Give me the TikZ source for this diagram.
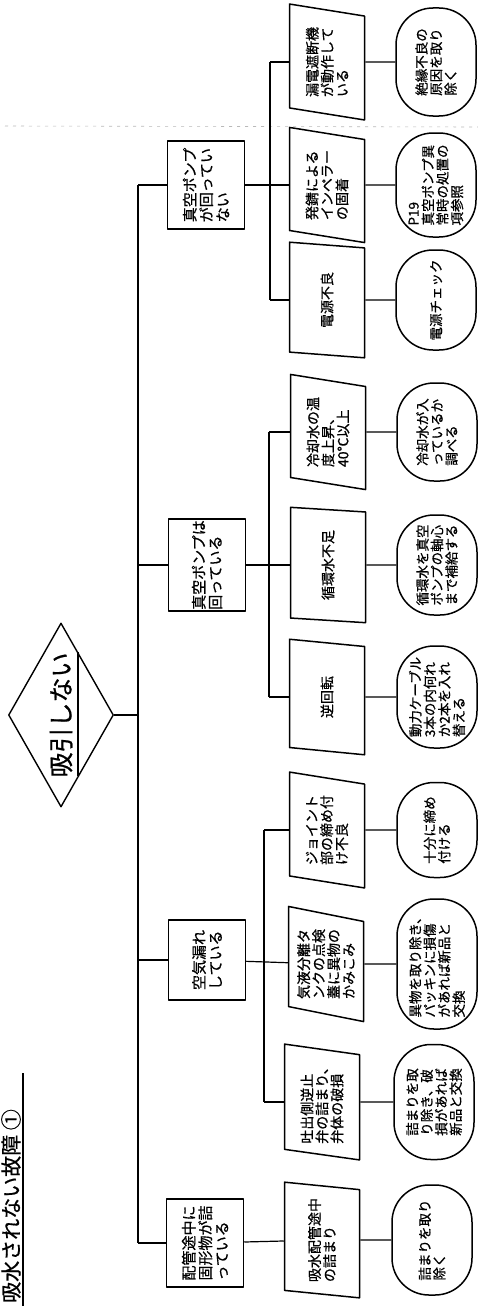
\documentclass[tikz,border=0pt]{standalone}
\usepackage{fontspec}
\newfontfamily\jp[FakeBold=0.6]{Noto Sans CJK JP}
\usetikzlibrary{shapes.geometric,shapes.misc}
\begin{document}
\begin{tikzpicture}[x=1pt,y=-1pt,line join=round,
  conn/.style={line width=1.2pt},
  rootbox/.style={diamond, draw, line width=1.4pt, rotate=90, aspect=1.75,
    minimum width=184pt, minimum height=105pt, inner sep=0pt,
    font=\jp\fontsize{25}{27}\selectfont},
  causebox/.style={rectangle, draw, line width=1.5pt, rotate=90, align=left,
    minimum height=77pt, inner sep=1pt, font=\jp\fontsize{15}{16.5}\selectfont},
  detailbox/.style={trapezium, trapezium left angle=78, trapezium right angle=102,
    trapezium stretches=true, draw, line width=1.5pt, rotate=90, align=left,
    minimum height=75pt, minimum width=116pt, inner sep=1pt,
    font=\jp\fontsize{14}{15}\selectfont},
  fixbox/.style={rectangle, rounded corners=37pt, draw, line width=1.5pt, rotate=90,
    align=left, minimum height=80pt, inner sep=1pt,
    font=\jp\fontsize{13.5}{14.5}\selectfont},
  titletext/.style={rotate=90, anchor=west, inner sep=0pt,
    font=\jp\fontsize{21}{23}\selectfont}
]
\fill[white] (0,0) rectangle (478,1306);
\useasboundingbox (0,0) rectangle (478,1306);

% faint scan line
\draw[gray!55, line width=0.6pt, dash pattern=on 3pt off 5pt] (5,126) -- (478,127);

% title
\node[titletext] (title) at (11,1303) {吸水されない故障 ①};
\draw[line width=1.2pt] (23,1073) -- (23,1306);

% root
\node[rootbox] (root) at (61,715) {吸引しない};
\draw[line width=1.1pt] (78,652) -- (78,776);

% level 1
\node[causebox, minimum width=88pt] (cA) at (206,185) {真空ポンプ\\が回ってい\\ない};
\node[causebox, minimum width=92pt] (cB) at (207,565) {真空ポンプは\\回っている};
\node[causebox, minimum width=80pt] (cC) at (207,960) {空気漏れ\\している};
\node[causebox, minimum width=88pt] (cD) at (205,1243) {配管途中に\\固形物が詰\\っている};

% level 2
\node[detailbox] (dA1) at (327,62) {漏電遮断機\\が動作して\\いる};
\node[detailbox] (dA2) at (327,185) {発錆による\\インペラー\\の固着};
\node[detailbox] (dA3) at (327,300) {電源不良};
\node[detailbox] (dB1) at (328,432) {冷却水の温\\度上昇、\\40℃以上};
\node[detailbox] (dB2) at (328,565) {循環水不足};
\node[detailbox] (dB3) at (327,697) {逆回転};
\node[detailbox] (dC1) at (327,830) {ジョイント\\部の締め付\\け不良};
\node[detailbox] (dC2) at (326,964) {気液分離タ\\ンクの点検\\蓋に異物の\\かみこみ};
\node[detailbox] (dC3) at (322,1102) {吐出側逆止\\弁の詰まり、\\弁体の破損};
\node[detailbox] (dD) at (322,1240) {吸水配管途中\\の詰まり};

% level 3
\node[fixbox, minimum width=108pt] (fA1) at (436,62) {絶縁不良の\\原因を取り\\除く};
\node[fixbox, minimum width=104pt] (fA2) at (436,185) {P19\\真空ポンプ異\\常時の処置の\\項参照};
\node[fixbox, minimum width=100pt] (fA3) at (436,300) {電源チェック};
\node[fixbox, minimum width=98pt] (fB1) at (437,432) {冷却水が入\\っているか\\調べる};
\node[fixbox, minimum width=100pt] (fB2) at (437,565) {循環水を真空\\ポンプの軸心\\まで補給する};
\node[fixbox, minimum width=102pt] (fB3) at (437,697) {動力ケーブル\\3本の内何れ\\か2本を入れ\\替える};
\node[fixbox, minimum width=95pt] (fC1) at (437,830) {十分に締め\\付ける};
\node[fixbox, minimum width=130pt] (fC2) at (437,964) {異物を取り除き、\\パッキンに損傷\\があれば新品と\\交換};
\node[fixbox, minimum width=115pt] (fC3) at (434,1102) {詰まりを取\\り除き、破\\損があれば\\新品と交換};
\node[fixbox, minimum width=110pt] (fD) at (432,1240) {詰まりを取り\\除く};

% spines
\coordinate (sp) at (138,0);
\coordinate (sA) at (270,0);
\coordinate (sB) at (269,0);
\coordinate (sC) at (264,0);

\draw[conn] (root) -- (sp |- root.center);
\draw[conn] (sp |- cA.center) -- (sp |- cD.center);
\foreach \n in {cA,cB,cC,cD} \draw[conn] (sp |- \n.center) -- (\n);

\draw[conn] (cA) -- (dA2);
\draw[conn] (sA |- dA1.center) -- (sA |- dA3.center);
\draw[conn] (sA |- dA1.center) -- (dA1);
\draw[conn] (sA |- dA3.center) -- (dA3);

\draw[conn] (cB) -- (dB2);
\draw[conn] (sB |- dB1.center) -- (sB |- dB3.center);
\draw[conn] (sB |- dB1.center) -- (dB1);
\draw[conn] (sB |- dB3.center) -- (dB3);

\draw[conn] (cC) -- (dC2);
\draw[conn] (sC |- dC1.center) -- (sC |- dC3.center);
\draw[conn] (sC |- dC1.center) -- (dC1);
\draw[conn] (sC |- dC3.center) -- (dC3);

\draw[conn] (cD) -- (dD);

\foreach \a/\b in {dA1/fA1,dA2/fA2,dA3/fA3,dB1/fB1,dB2/fB2,dB3/fB3,dC1/fC1,dC2/fC2,dC3/fC3,dD/fD}
  \draw[conn] (\a) -- (\b);
\end{tikzpicture}
\end{document}
